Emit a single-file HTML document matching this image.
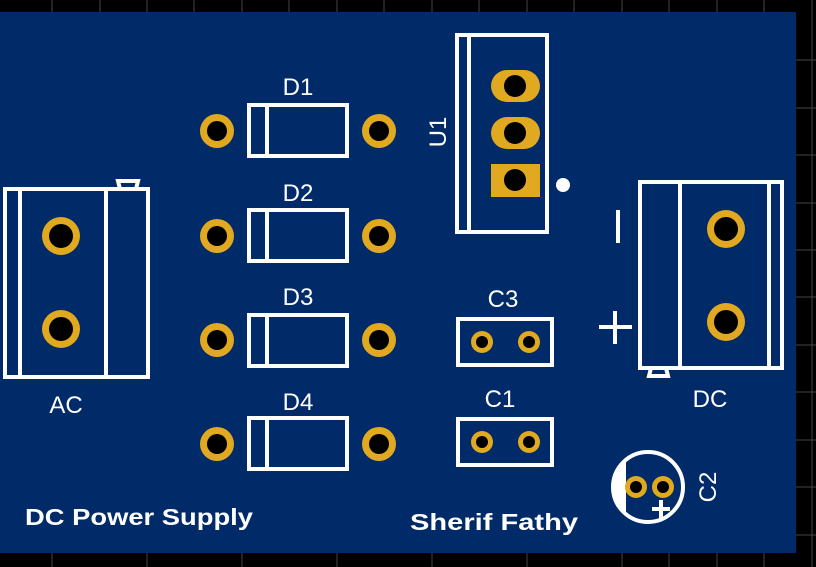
<!DOCTYPE html>
<html><head><style>html,body{margin:0;padding:0;background:#000;}svg{display:block}</style></head><body>
<svg width="816" height="567" viewBox="0 0 816 567" xmlns="http://www.w3.org/2000/svg" font-family="Liberation Sans, sans-serif">
<rect width="816" height="567" fill="#000"/>
<g stroke="#444" stroke-width="1">
<line x1="52" y1="0" x2="52" y2="12"/><line x1="100" y1="0" x2="100" y2="12"/><line x1="147" y1="0" x2="147" y2="12"/><line x1="194" y1="0" x2="194" y2="12"/><line x1="242" y1="0" x2="242" y2="12"/><line x1="289" y1="0" x2="289" y2="12"/><line x1="337" y1="0" x2="337" y2="12"/><line x1="384" y1="0" x2="384" y2="12"/><line x1="432" y1="0" x2="432" y2="12"/><line x1="479" y1="0" x2="479" y2="12"/><line x1="527" y1="0" x2="527" y2="12"/><line x1="574" y1="0" x2="574" y2="12"/><line x1="622" y1="0" x2="622" y2="12"/><line x1="669" y1="0" x2="669" y2="12"/><line x1="717" y1="0" x2="717" y2="12"/><line x1="764" y1="0" x2="764" y2="12"/><line x1="812" y1="0" x2="812" y2="567"/>
<line x1="622" y1="553" x2="622" y2="567"/><line x1="669" y1="553" x2="669" y2="567"/><line x1="717" y1="553" x2="717" y2="567"/><line x1="764" y1="553" x2="764" y2="567"/><line x1="52" y1="553" x2="52" y2="567"/><line x1="147" y1="553" x2="147" y2="567"/><line x1="242" y1="553" x2="242" y2="567"/><line x1="337" y1="553" x2="337" y2="567"/><line x1="432" y1="553" x2="432" y2="567"/><line x1="527" y1="553" x2="527" y2="567"/>
<line x1="796" y1="60" x2="816" y2="60"/><line x1="796" y1="108" x2="816" y2="108"/><line x1="796" y1="155" x2="816" y2="155"/><line x1="796" y1="203" x2="816" y2="203"/><line x1="796" y1="250" x2="816" y2="250"/><line x1="796" y1="297" x2="816" y2="297"/><line x1="796" y1="345" x2="816" y2="345"/><line x1="796" y1="392" x2="816" y2="392"/><line x1="796" y1="440" x2="816" y2="440"/><line x1="796" y1="487" x2="816" y2="487"/><line x1="796" y1="535" x2="816" y2="535"/>
</g>
<rect x="0" y="12" width="796" height="541" fill="#012a68"/>
<g fill="none" stroke="#fff" stroke-width="4">
<rect x="5" y="189" width="143" height="188"/>
<line x1="20" y1="189" x2="20" y2="377"/><line x1="106" y1="189" x2="106" y2="377"/>
<path d="M120 189 L118 181 L138 181 L136 189"/>
<rect x="249" y="105" width="98" height="51"/><line x1="267" y1="105" x2="267" y2="156"/>
<rect x="249" y="210" width="98" height="51"/><line x1="267" y1="210" x2="267" y2="261"/>
<rect x="249" y="315" width="98" height="51"/><line x1="267" y1="315" x2="267" y2="366"/>
<rect x="249" y="418" width="98" height="51"/><line x1="267" y1="418" x2="267" y2="469"/>
<rect x="457" y="35" width="90" height="197"/><line x1="469" y1="35" x2="469" y2="232"/>
<rect x="640" y="182" width="142" height="186"/>
<line x1="680" y1="182" x2="680" y2="368"/><line x1="769" y1="182" x2="769" y2="368"/>
<path d="M651 368 L649 376 L668 376 L666 368"/>
<line x1="618" y1="210" x2="618" y2="243"/>
<line x1="599" y1="327" x2="632" y2="327"/><line x1="615" y1="311" x2="615" y2="344"/>
<rect x="458" y="319" width="94" height="46"/>
<rect x="458" y="419" width="94" height="46"/>
<circle cx="648" cy="487" r="35"/>
</g>
<path d="M626 459 A35 35 0 0 0 626 515 Z" fill="#fff"/>
<g stroke="#fff" stroke-width="4"><line x1="652" y1="509" x2="670" y2="509"/><line x1="661" y1="500" x2="661" y2="518"/></g>
<g fill="#e0a91f">
<circle cx="61" cy="236" r="19"/><circle cx="61" cy="329" r="19"/>
<circle cx="217" cy="131" r="17"/><circle cx="379" cy="131" r="17"/>
<circle cx="217" cy="236" r="17"/><circle cx="379" cy="236" r="17"/>
<circle cx="217" cy="340" r="17"/><circle cx="379" cy="340" r="17"/>
<circle cx="217" cy="444" r="17"/><circle cx="379" cy="444" r="17"/>
<rect x="491" y="70" width="49" height="32" rx="16"/><rect x="491" y="117" width="49" height="32" rx="16"/><rect x="491" y="164" width="49" height="33"/>
<circle cx="726" cy="229" r="19"/><circle cx="726" cy="322" r="19"/>
<circle cx="482" cy="342" r="11"/><circle cx="529" cy="342" r="11"/>
<circle cx="482" cy="442" r="11"/><circle cx="529" cy="442" r="11"/>
<circle cx="636" cy="487" r="11"/><circle cx="663" cy="487" r="11"/>
</g>
<g fill="#000">
<circle cx="61" cy="236" r="12"/><circle cx="61" cy="329" r="12"/>
<circle cx="217" cy="131" r="10"/><circle cx="379" cy="131" r="10"/>
<circle cx="217" cy="236" r="10"/><circle cx="379" cy="236" r="10"/>
<circle cx="217" cy="340" r="10"/><circle cx="379" cy="340" r="10"/>
<circle cx="217" cy="444" r="10"/><circle cx="379" cy="444" r="10"/>
<circle cx="515" cy="86" r="11"/><circle cx="515" cy="133" r="11"/><circle cx="515" cy="180" r="11"/>
<circle cx="726" cy="229" r="12"/><circle cx="726" cy="322" r="12"/>
<circle cx="482" cy="342" r="6"/><circle cx="529" cy="342" r="6"/>
<circle cx="482" cy="442" r="6"/><circle cx="529" cy="442" r="6"/>
<circle cx="636" cy="487" r="6"/><circle cx="663" cy="487" r="6"/>
</g>
<circle cx="563" cy="185" r="7" fill="#fff"/>
<g fill="#fff" font-size="24">
<text x="298" y="95" text-anchor="middle">D1</text>
<text x="298" y="201" text-anchor="middle">D2</text>
<text x="298" y="305" text-anchor="middle">D3</text>
<text x="298" y="410" text-anchor="middle">D4</text>
<text x="503" y="307" text-anchor="middle">C3</text>
<text x="500" y="407" text-anchor="middle">C1</text>
<text x="66" y="413" text-anchor="middle">AC</text>
<text x="710" y="407" text-anchor="middle">DC</text>
<text transform="translate(446,132) rotate(-90)" text-anchor="middle">U1</text>
<text transform="translate(716,487) rotate(-90)" text-anchor="middle">C2</text>
<text x="25" y="525" font-size="23" font-weight="bold" textLength="228" lengthAdjust="spacingAndGlyphs">DC Power Supply</text>
<text x="410" y="530" font-size="23" font-weight="bold" textLength="168" lengthAdjust="spacingAndGlyphs">Sherif Fathy</text>
</g>
</svg>
</body></html>
